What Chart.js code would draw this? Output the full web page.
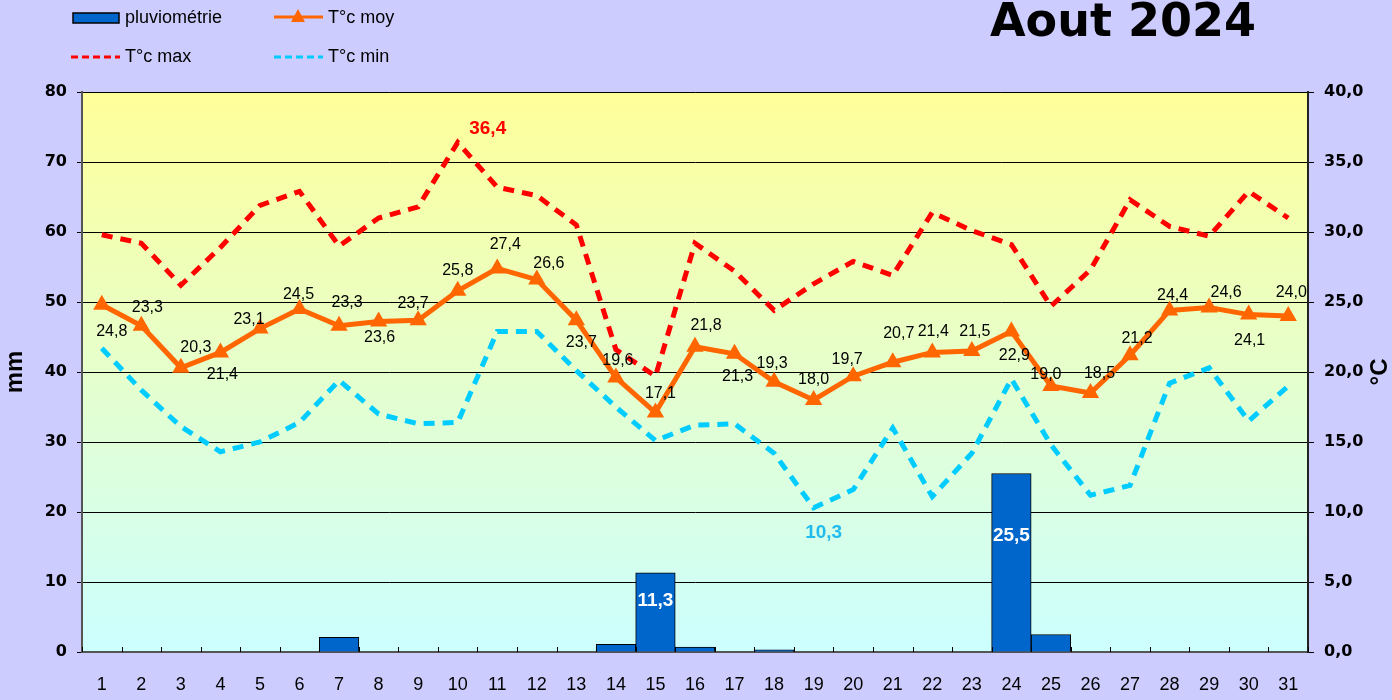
<!DOCTYPE html>
<html lang="fr">
<head>
  <meta charset="UTF-8" />
  <title>Aout 2024</title>
  <script src="https://cdn.jsdelivr.net/npm/chart.js"></script>
  <style>
    body {
      margin: 0;
      background: #CCCCFF;
    }
    #wrap {
      width: 1392px;
      height: 700px;
    }
  </style>
</head>
<body>
  <div id="wrap"><canvas id="meteo" width="1392" height="700"></canvas></div>

  <script>
    // Relevés du mois
    const days = ['1','2','3','4','5','6','7','8','9','10','11','12','13','14','15','16',
                  '17','18','19','20','21','22','23','24','25','26','27','28','29','30','31'];
    const rain = [0,0,0,0,0,0,2.1,0,0,0,0,0,0,1.1,11.3,0.7,0,0.3,0,0,0,0,0,25.5,2.5,0,0,0,0,0,0];
    const tMoy = [24.8,23.3,20.3,21.4,23.1,24.5,23.3,23.6,23.7,25.8,27.4,26.6,23.7,19.6,17.1,21.8,
                  21.3,19.3,18.0,19.7,20.7,21.4,21.5,22.9,19.0,18.5,21.2,24.4,24.6,24.1,24.0];
    const tMax = [29.8,29.2,26.2,28.9,31.9,32.9,29.0,31.0,31.8,36.4,33.2,32.6,30.5,21.6,19.7,29.2,
                  27.2,24.4,26.3,27.9,26.9,31.4,30.1,29.1,24.7,27.3,32.3,30.4,29.7,32.9,31.0];
    const tMin = [21.7,18.7,16.1,14.3,15.0,16.4,19.4,17.0,16.3,16.4,22.9,22.9,20.1,17.5,15.1,16.2,
                  16.3,14.2,10.3,11.6,16.0,11.1,14.2,19.5,14.8,11.2,11.9,19.2,20.3,16.5,19.0];

    // décalage des étiquettes T°c moy (dx, dy) par rapport au point
    const moyLabelShift = [[10,27],[6,-18],[15,-20],[2,22],[-11,-9],[-1,-14],[8,-23],[1,16],[-5,-17],
      [0,-20],[8,-24],[12,-16],[5,22],[2,-17],[5,-19],[11,-21],[3,23],[-2,-18],[0,-20],[-6,-17],
      [6,-29],[1,-21],[3,-19],[3,24],[-5,-11],[9,-19],[7,-17],[3,-15],[17,-15],[1,26],[3,-23]];

    const ARIAL = "'Liberation Sans', Arial, sans-serif";
    const DEJA = "'DejaVu Sans', Verdana, sans-serif";

    const fmt = v => v.toFixed(1).replace('.', ',');

    function boldText(ctx, txt, x, y, color) {
      ctx.fillStyle = color;
      ctx.font = 'bold 19px ' + ARIAL;
      ctx.fillText(txt, x, y);
    }

    const decor = {
      id: 'decor',
      beforeDraw(chart) {
        const { ctx, chartArea: a } = chart;
        ctx.save();
        ctx.fillStyle = '#CCCCFF';
        ctx.fillRect(0, 0, chart.width, chart.height);
        const g = ctx.createLinearGradient(0, a.top, 0, a.bottom);
        g.addColorStop(0, '#FFFF99');
        g.addColorStop(1, '#CCFFFF');
        ctx.fillStyle = g;
        ctx.fillRect(a.left, a.top, a.right - a.left, a.bottom - a.top);
        ctx.strokeStyle = '#9999BB';
        ctx.lineWidth = 1;
        ctx.beginPath();
        ctx.moveTo(a.left, a.top + 0.5);
        ctx.lineTo(a.right, a.top + 0.5);
        ctx.stroke();
        ctx.restore();
      },
      afterDatasetsDraw(chart) {
        const { ctx, chartArea: a } = chart;
        const xs = chart.scales.x, y1 = chart.scales.y1;
        ctx.save();

        // petites graduations vers le haut entre les jours
        const half = (xs.getPixelForValue(1) - xs.getPixelForValue(0)) / 2;
        ctx.strokeStyle = '#000';
        ctx.lineWidth = 1;
        for (let i = 0; i <= days.length; i++) {
          const x = Math.round(xs.getPixelForValue(i) - half) + 0.5;
          ctx.beginPath();
          ctx.moveTo(x, a.bottom);
          ctx.lineTo(x, a.bottom - 5);
          ctx.stroke();
        }

        ctx.textAlign = 'center';
        ctx.textBaseline = 'middle';

        // étiquettes pluie
        const bars = chart.getDatasetMeta(0).data;
        rain.forEach((v, i) => {
          if (v < 10) return;
          const b = bars[i];
          boldText(ctx, fmt(v), b.x, b.y + (b.base - b.y) * 0.35, '#fff');
        });

        // étiquettes T°c moy
        const pts = chart.getDatasetMeta(3).data;
        ctx.fillStyle = '#000';
        ctx.font = '16px ' + ARIAL;
        tMoy.forEach((v, i) => {
          const s = moyLabelShift[i];
          ctx.fillText(fmt(v), pts[i].x + s[0], pts[i].y + s[1]);
        });

        // max et min du mois
        const iMax = tMax.indexOf(Math.max(...tMax));
        const iMin = tMin.indexOf(Math.min(...tMin));
        boldText(ctx, fmt(tMax[iMax]), xs.getPixelForValue(iMax) + 30, y1.getPixelForValue(tMax[iMax]) - 14, '#FF0000');
        boldText(ctx, fmt(tMin[iMin]), xs.getPixelForValue(iMin) + 10, y1.getPixelForValue(tMin[iMin]) + 25, '#22BBEE');

        // titres des axes
        ctx.fillStyle = '#000';
        ctx.font = 'bold 24px ' + ARIAL;
        ctx.save();
        ctx.translate(15, 372);
        ctx.rotate(-Math.PI / 2);
        ctx.fillText('mm', 0, 0);
        ctx.restore();
        ctx.save();
        ctx.translate(1380, 372);
        ctx.rotate(-Math.PI / 2);
        ctx.fillText('°C', 0, 0);
        ctx.restore();

        // titre
        ctx.textAlign = 'left';
        ctx.textBaseline = 'alphabetic';
        ctx.font = 'bold 46px ' + DEJA;
        ctx.fillText('Aout 2024', 990, 36);

        // légende
        ctx.textBaseline = 'middle';
        ctx.font = '18px ' + ARIAL;
        ctx.fillStyle = '#0066CC';
        ctx.fillRect(73, 13, 46, 10);
        ctx.strokeStyle = '#000';
        ctx.lineWidth = 1.5;
        ctx.strokeRect(73, 13, 46, 10);
        ctx.fillStyle = '#000';
        ctx.fillText('pluviométrie', 125, 18);

        ctx.strokeStyle = '#FF6600';
        ctx.lineWidth = 3;
        ctx.beginPath();
        ctx.moveTo(274, 17); ctx.lineTo(323, 17);
        ctx.stroke();
        ctx.fillStyle = '#FF6600';
        ctx.beginPath();
        ctx.moveTo(298, 9); ctx.lineTo(305, 22); ctx.lineTo(291, 22);
        ctx.closePath();
        ctx.fill();
        ctx.fillStyle = '#000';
        ctx.fillText('T°c moy', 328, 18);

        ctx.setLineDash([7, 4]);
        ctx.strokeStyle = '#FF0000';
        ctx.beginPath();
        ctx.moveTo(71, 57); ctx.lineTo(120, 57);
        ctx.stroke();
        ctx.strokeStyle = '#00CCFF';
        ctx.beginPath();
        ctx.moveTo(274, 57); ctx.lineTo(323, 57);
        ctx.stroke();
        ctx.setLineDash([]);
        ctx.fillText('T°c max', 125, 57);
        ctx.fillText('T°c min', 328, 57);

        ctx.restore();
      }
    };

    new Chart(document.getElementById('meteo'), {
      data: {
        labels: days,
        datasets: [
          {
            type: 'bar',
            label: 'pluviométrie',
            data: rain,
            yAxisID: 'y',
            backgroundColor: '#0066CC',
            borderColor: '#000',
            borderWidth: 1,
            barPercentage: 1,
            categoryPercentage: 1,
            order: 4
          },
          {
            type: 'line',
            label: 'T°c max',
            data: tMax,
            yAxisID: 'y1',
            borderColor: '#FF0000',
            borderWidth: 5,
            borderDash: [11, 8],
            pointRadius: 0,
            fill: false,
            order: 3
          },
          {
            type: 'line',
            label: 'T°c min',
            data: tMin,
            yAxisID: 'y1',
            borderColor: '#00CCFF',
            borderWidth: 5,
            borderDash: [11, 8],
            pointRadius: 0,
            fill: false,
            order: 2
          },
          {
            type: 'line',
            label: 'T°c moy',
            data: tMoy,
            yAxisID: 'y1',
            borderColor: '#FF6600',
            borderWidth: 5,
            pointStyle: 'triangle',
            pointRadius: 10,
            pointBackgroundColor: '#FF6600',
            pointBorderColor: '#FF6600',
            pointBorderWidth: 0,
            fill: false,
            order: 1
          }
        ]
      },
      options: {
        responsive: false,
        animation: false,
        devicePixelRatio: 1,
        layout: { padding: { top: 92, left: 0, right: 0, bottom: 0 } },
        plugins: {
          legend: { display: false },
          tooltip: { enabled: false }
        },
        scales: {
          x: {
            grid: { offset: true, drawOnChartArea: false, drawTicks: false },
            border: { display: true, color: '#555', width: 2 },
            ticks: { color: '#000', font: { family: ARIAL, size: 18 }, padding: 22 },
            afterFit: s => { s.height = 48; }
          },
          y: {
            position: 'left',
            min: 0,
            max: 80,
            ticks: {
              stepSize: 10,
              color: '#000',
              padding: 10,
              font: { family: DEJA, size: 16, weight: 'bold' }
            },
            grid: { color: '#000', lineWidth: 1, tickLength: 5, tickColor: '#000' },
            border: { display: true, color: '#555', width: 2 },
            afterFit: s => { s.width = 82; }
          },
          y1: {
            position: 'right',
            min: 0,
            max: 40,
            ticks: {
              stepSize: 5,
              color: '#000',
              padding: 10,
              font: { family: DEJA, size: 16, weight: 'bold' },
              callback: v => fmt(v)
            },
            grid: { drawOnChartArea: false, tickLength: 6, tickColor: '#000' },
            border: { display: true, color: '#222', width: 2 },
            afterFit: s => { s.width = 84; }
          }
        }
      },
      plugins: [decor]
    });
  </script>
</body>
</html>
